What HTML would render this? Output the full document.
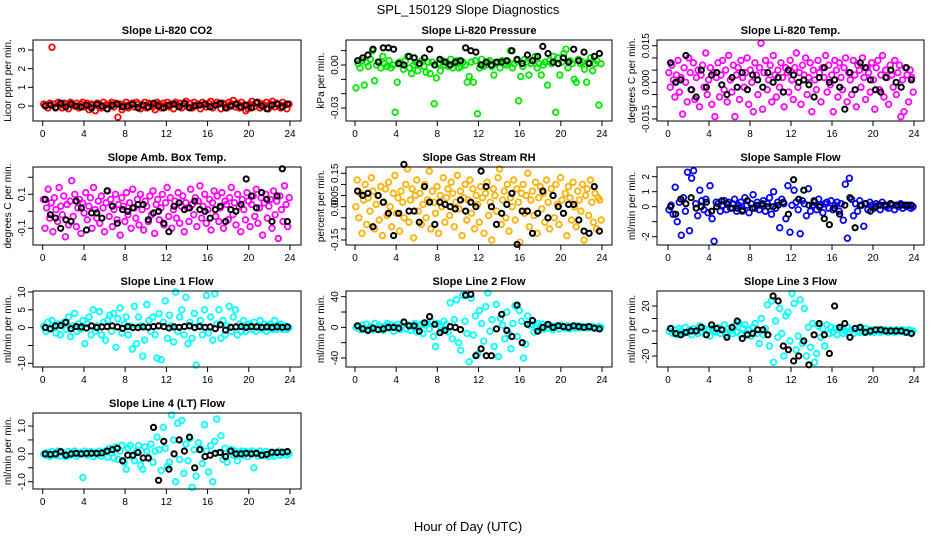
<!DOCTYPE html>
<html><head><meta charset="utf-8">
<style>
html,body{margin:0;padding:0;background:#fff;}
svg{display:block;font-family:"Liberation Sans",sans-serif;}
</style></head>
<body>
<svg id="chart" width="936" height="540" viewBox="0 0 936 540" xmlns="http://www.w3.org/2000/svg">
<rect width="936" height="540" fill="#fff"/>
<text x="468" y="14" text-anchor="middle" font-size="13">SPL_150129  Slope Diagnostics</text>
<text x="468" y="531" text-anchor="middle" font-size="13">Hour of Day (UTC)</text>
</svg>
<script>
// ---- data (hours 0-24 spread evenly by array length) ----
const xTicks = [0,4,8,12,16,20,24];

const co2Vals = [0.1,0.05,-0.1,0.15,3.15,0.1,-0.05,0.2,0.05,-0.1,0.15,0.1,-0.15,0.2,0.05,0,0.15,-0.1,0.1,0.2,-0.05,0.15,-0.2,0.1,0.05,-0.25,0.15,0.1,-0.1,0.2,0.05,-0.15,0.1,0.2,-0.05,0.15,-0.6,0.1,-0.2,0.05,0.2,-0.1,0.1,0.15,-0.05,0.2,0.1,-0.15,0.05,0.2,-0.1,0.15,0.1,-0.05,-0.2,0.2,0.1,-0.1,0.15,0.05,0.2,-0.05,0.1,-0.15,0.2,0.05,0.15,-0.1,0.1,0.25,-0.05,0.15,-0.1,0.2,0.05,0.1,-0.15,0.2,0.1,-0.05,0.15,0.25,-0.1,0.05,0.2,0.1,-0.15,0.15,0.05,-0.1,0.2,0.1,0.3,-0.05,0.15,-0.1,0.2,0.05,-0.25,-0.15,0.1,0.25,-0.05,0.15,0.2,-0.1,0.1,0.05,0.2,-0.15,0.1,0.25,-0.05,0.15,0.1,-0.1,0.2,0.05,-0.15,0.1];
const co2Black = [0,0.05,-0.1,0.15,-0.05,0.1,0,-0.05,0.05,-0.1,0.1,0,-0.15,0.05,0.1,-0.05,0,0.1,-0.1,0.05,-0.05,0.15,0,-0.1,0.05,0.1,-0.05,0.15,-0.1,0,0.05,0.1,-0.05,0.05,0.15,-0.1,0,0.1,-0.05,0.05,-0.1,0.2,0,-0.15,0.05,0.1,-0.05,0.1];

const presVals = [-0.016,0.001,-0.002,0.003,-0.014,0.002,-0.001,0.004,0.01,-0.011,0,0.002,-0.002,0.006,0.001,-0.001,0.003,-0.002,0,-0.033,-0.012,0.002,0.001,-0.003,0.003,0.006,-0.002,-0.006,0,0.002,-0.004,0.001,0.003,-0.001,-0.005,0.002,-0.006,0.002,-0.027,-0.009,0.001,-0.004,0.003,0,0.002,-0.001,0.004,-0.002,0.001,0.003,-0.002,-0.001,0.002,0,-0.012,-0.008,0.002,-0.012,0.003,-0.034,-0.002,0.004,-0.001,0,0.002,0.003,-0.001,-0.007,0.001,0.002,-0.002,0.003,0.001,0,0.002,0.01,-0.002,0.001,0.003,-0.025,-0.008,-0.001,0.004,0.002,-0.007,0.001,0.003,0.006,-0.002,0.001,-0.007,0,0.002,-0.014,0.003,0.001,0.006,-0.033,0.005,-0.007,0.002,0.008,0.011,-0.002,0.003,0.001,-0.01,-0.012,0.004,0.001,0.002,-0.003,-0.012,0.002,0.005,-0.004,0.001,0.003,-0.028,0.001];
const presBlack = [0.003,0.005,0.007,0.011,0.002,0.012,0.012,0.011,0.001,0,0.006,0.005,0.001,0.005,0.011,0,0.004,0.002,0,0.002,0.003,0.012,0.01,0.009,0,0.002,0,0.002,0.002,0.003,0.01,0.004,0.001,0.007,0.003,0.006,0.013,0.008,0.002,0.001,0.005,0.002,0.011,0.003,0.009,0.001,0.006,0.008];

const tempVals = [0.004,-0.002,0.007,0.001,-0.006,0.003,0.009,-0.004,0.002,-0.013,0.006,0,-0.008,0.01,0.004,-0.003,0.008,-0.007,0.002,0.005,-0.01,0.003,0.007,-0.002,0.012,-0.005,0.001,0.006,-0.009,0.004,-0.014,0.002,0.008,-0.006,0.003,0.009,-0.003,0.005,-0.008,0.011,0.001,-0.004,0.007,-0.014,0.003,0.006,-0.007,0.009,0.002,-0.002,0.004,0.01,-0.009,0.005,0,-0.012,0.008,0.003,-0.005,0.006,0.016,-0.011,0.004,0.009,-0.003,0.001,0.007,-0.008,0.011,0.003,-0.006,0.005,-0.002,0.008,0.002,-0.01,0.006,0.004,-0.004,0.009,0.001,-0.007,0.006,0.012,-0.002,0.004,-0.009,0.007,0.003,0.01,-0.005,0.002,0.008,-0.012,0.005,0.001,-0.003,0.009,0.004,-0.008,0.006,0.002,0.011,-0.004,0.007,-0.001,0.003,-0.012,0.009,0.005,-0.006,0.008,0.002,-0.003,0.006,0.01,-0.008,0.004,0.001,-0.005,0.009,0.003,-0.01,0.007,0.005,-0.002,0.01,0.002,-0.007,0.006,0.004,-0.004,0.008,0.001,-0.011,0.006,0.009,-0.003,0.003,0.011,-0.006,0.005,0.002,-0.009,0.007,0.003,-0.002,0.009,-0.005,0.004,0.007,-0.014,0.001,-0.012,0.006,0.003,-0.008,0.005,0.002,-0.004];
const tempBlack = [0.008,0,0.001,0.011,-0.003,-0.006,0.005,-0.002,0.003,0.004,-0.001,-0.005,0.002,-0.002,0.004,-0.003,0.003,0.001,-0.002,0.004,0,0.002,-0.004,0.005,0.003,0,0.001,-0.001,-0.006,0.002,0.006,0,0.001,-0.002,-0.011,0.004,-0.003,0.008,0.006,0.001,-0.003,-0.004,0.002,0.005,0,-0.002,0.006,0.001];

const ambVals = [0.07,-0.1,0.02,0.13,-0.04,0.05,-0.12,0.08,0.01,-0.06,0.14,0.03,-0.02,0.09,-0.15,0.04,-0.08,0.06,0.18,-0.03,0.1,-0.09,0.02,0.07,-0.13,0.05,-0.01,0.11,-0.05,0.03,0.08,-0.1,0.14,0.01,-0.04,0.06,-0.07,0.09,0.02,-0.12,0.05,0.12,-0.03,0.07,-0.09,0.01,0.1,-0.05,0.04,-0.14,0.08,0.03,-0.06,0.11,-0.02,0.05,-0.1,0.13,0.02,-0.04,0.07,-0.08,0.1,0.01,-0.11,0.06,0.03,-0.06,0.09,-0.02,0.12,-0.13,0.04,0.07,-0.05,0.02,0.1,-0.08,0.05,0.14,-0.03,0.08,-0.1,0.01,0.06,-0.04,0.11,-0.07,0.03,0.09,-0.12,0.05,0.02,-0.06,0.13,0.04,-0.02,0.08,-0.09,0.06,0.15,-0.04,0.03,0.1,-0.07,0.01,0.07,-0.11,0.05,0.12,-0.03,0.09,-0.06,0.02,0.11,-0.1,0.06,0.04,-0.05,0.08,0.14,-0.02,0.05,-0.08,0.1,0.03,-0.12,0.07,0.01,-0.05,0.11,0.06,-0.09,0.04,0.09,-0.03,0.13,-0.07,0.02,0.08,-0.14,0.05,0.1,-0.04,0.03,0.07,-0.1,0.12,-0.02,0.06,-0.16,0.09,0.01,-0.06,0.15,0.04,-0.09,0.08];
const ambBlack = [0.07,-0.02,-0.04,-0.1,-0.05,-0.06,0.06,0.02,-0.11,-0.01,-0.01,-0.04,0.12,0.03,-0.07,0.01,0,0.02,0.04,0.04,-0.05,-0.01,0,-0.07,-0.12,0.03,0.05,0.01,0.02,0.06,0.01,0,-0.04,0.01,0.03,-0.06,0.01,0,0.04,0.19,0.09,0.02,0.11,0.07,-0.06,0.09,0.25,-0.06];

const rhVals = [0.0,0.12,-0.05,0.06,-0.12,0.03,0.1,-0.08,0.04,-0.02,0.13,0.07,-0.1,0.01,0.05,-0.06,0.09,-0.13,0.02,0.08,-0.04,0.11,0.0,-0.09,0.06,0.14,-0.03,0.04,-0.11,0.07,0.02,-0.05,0.1,0.17,-0.07,0.03,0.08,-0.14,0.05,0.12,-0.02,0.06,-0.08,0.01,0.1,-0.05,0.03,0.16,-0.1,0.07,0.02,-0.03,0.09,-0.12,0.05,0.0,0.13,-0.07,0.04,0.08,-0.04,0.11,0.06,-0.09,0.02,0.14,-0.01,0.07,-0.13,0.04,0.1,-0.06,0.03,0.12,-0.03,0.08,-0.1,0.05,0.01,-0.07,0.09,0.04,-0.12,0.06,0.11,-0.04,0.02,-0.15,0.08,0.05,-0.02,0.13,0.17,-0.08,0.03,0.07,-0.05,0.1,-0.11,0.04,0.0,0.12,-0.06,0.08,0.02,-0.16,0.06,0.1,-0.03,0.05,0.15,-0.09,0.03,0.07,-0.04,0.11,-0.12,0.04,0.09,-0.01,0.06,-0.07,0.12,0.02,-0.1,0.08,0.05,-0.05,0.1,0.01,-0.08,0.13,0.03,-0.03,0.06,-0.13,0.09,0.04,-0.06,0.11,0.0,-0.09,0.07,0.03,-0.02,0.1,-0.15,0.05,0.08,-0.04,0.12,0.02,-0.07,0.06,-0.1,0.04,0.03,-0.06];
const rhBlack = [0.07,0.05,0.06,-0.09,0.05,0.02,-0.03,-0.13,-0.03,0.19,-0.02,-0.02,-0.07,0.09,0.02,-0.08,0.02,0.01,0,-0.01,0.03,-0.02,0.02,0,0.16,0.09,0,-0.08,-0.03,0.01,0.06,-0.17,-0.02,-0.02,-0.12,-0.03,0.07,-0.05,0.05,0,-0.03,0.01,0.01,-0.06,-0.11,-0.12,0.09,-0.11];

const sampVals = [-0.2,0.1,-0.5,1.3,-1.0,0.3,-1.9,0.6,-0.3,2.3,-1.6,1.9,2.4,0.2,-0.6,1.1,0.4,-0.2,0.5,-0.4,1.4,-0.8,-2.3,0.3,0.2,-0.3,0.1,0.4,-0.2,0.3,-0.1,0.2,0.5,-0.3,0.1,0.3,-0.2,0.6,0.1,-0.4,0.2,0.8,-0.1,0.3,-0.2,0.1,0.4,-0.3,0.2,0.6,-0.5,1.0,-0.1,0.3,-1.4,0.5,0.2,-0.8,1.4,-1.7,0.1,1.1,0.3,-0.2,-1.8,0.4,0.2,-0.6,1.2,-0.3,0.1,0.3,-0.2,0.5,0.1,-0.4,0.2,0.3,-0.1,0.4,-0.2,0.1,0.3,-0.3,0.2,-0.9,1.5,-2.1,1.9,0.5,-0.6,0.2,-0.3,0.4,0.1,-1.3,0.2,-0.2,0.3,0.1,-0.1,0.2,0.1,-0.2,0.3,0.1,0.0,-0.1,0.2,0.1,-0.2,0.1,0.0,0.2,-0.1,0.1,0.0,0.1,-0.1,0.0];
const sampBlack = [0.0,-0.5,0.5,0.2,0.6,-0.1,0.0,0.3,-0.3,0.0,0.4,0.2,-0.1,-0.1,-0.3,0.4,-0.1,0.1,0.2,0.0,0.0,0.1,0.3,-0.5,1.8,0.5,1.1,0.1,0.4,0.0,-0.8,-1.2,-0.1,-0.5,0.1,0.6,-1.4,0.1,0.2,-0.3,0.0,0.1,0.1,0.2,0.1,0.1,0.1,0.1];

const line1Vals = [0.5,-1,1.5,-0.5,2,0,-1.5,1,-2,0.5,1.5,-0.5,3,-2.5,0.5,4,-1,1,-0.5,2,-4.5,1,3,-2,5,-1,0.5,4.5,-2,1.5,-3.5,2,3.5,-1,4,-5.5,2.5,5.5,-1.5,1,3,-2,0.5,-6,6,-4.5,3,0.5,-8,-3.5,6.5,2,-1,3,-2,-8.5,4,-9,1.5,7.5,-3,3.5,0.5,-4,10,-1,3,5,-2,8.5,-4.5,1.5,-3,4,-10.5,0.5,2,-2,5,9,-1.5,3,-3.5,9.5,1,5,-3,2,-2,0.5,6,-1,3,5,-2,1,-1,2,-1,0.5,1,-0.5,1.5,-1,0.5,2,-0.5,1,-1,0.5,1,-0.5,2,-0.5,0.5,1,-0.5,0.5,-0.5,0];
const line1Black = [0,-0.3,0.5,0.6,1.5,-0.3,0.3,0.2,-0.1,0.5,0,0.2,0.3,0.5,0.2,-0.2,0.3,0,0,0.2,0.1,0.3,0.5,0.3,-0.1,0.2,0.1,0.3,0.5,0,0.3,0.1,0.2,-0.3,0.8,-0.7,0.1,0.2,0.3,0.1,0.3,0.2,0.1,0.2,0.1,0.2,0.1,0.2];

const line2Vals = [0,2,-3,3,-1,4,-2,1,-3,5,-2,3,0,-4,2,5,-1,3,-5,1,4,-3,2,6,-2,3,-4,1,5,-6,2,4,-8,3,6,-2,7,-12,-25,5,2,-4,8,4,-6,32,-15,10,36,-20,-30,42,8,-8,-45,38,-10,15,-35,22,5,-18,27,45,-5,10,-25,30,-38,12,3,-15,20,-8,-28,5,28,-12,22,8,-40,-22,15,3,4,-6,2,5,-3,4,-2,3,-1,2,-3,1,2,-2,3,0,-1,2,-2,1,0,-1,2,-1,1,0,1,-1,0,1,-1,0,1,0];
const line2Black = [2,-2,-4,-1,-3,-2,0,0,-1,7,2,2,-5,6,14,4,-7,-4,1,0,-3,42,43,-37,-28,-37,-37,-2,17,-4,-12,29,-20,4,9,-5,0,4,0,2,1,0,2,1,0,1,-1,-2];

const line3Vals = [0,2,-2,1,-3,2,0,-2,3,-1,1,-3,2,0,-2,4,-1,2,-3,1,-4,2,0,-1,3,-2,1,5,-3,2,0,-2,4,-1,7,-3,2,5,-2,1,-4,3,6,-2,-10,10,-3,2,21,-12,24,-25,8,-5,18,-2,-20,12,15,-8,30,22,-15,-4,25,-10,18,-20,3,-13,6,-25,-18,4,-5,2,-12,5,-2,3,-1,2,-3,1,2,-2,0,3,-1,1,-2,2,0,-1,1,-1,2,0,-1,1,-1,0,1,-1,0,1,0,-1,1,0,-1,1,0,0,1,-1,0,1,0,0];
const line3Black = [2,-2,-3,-1,0,0,3,-3,5,2,1,-5,3,8,-6,-3,-2,1,1,-3,28,24,-12,-15,-24,-20,-8,-27,-3,6,-3,-18,20,3,6,-5,2,3,-1,0,1,1,0,0,0,0,-1,-2];

const line4Vals = [0,-0.05,0.05,-0.1,0.08,0,-0.05,0.1,-0.08,0.05,0,-0.1,0.08,-0.05,0.05,0.1,-0.08,0,0.05,-0.85,0.1,-0.05,0.02,0.08,-0.1,0.05,-0.03,0.1,-0.08,0.05,0.1,-0.12,0.2,0.05,-0.15,0.25,-0.2,0.1,0.3,-0.3,-0.55,0.2,0.3,-0.1,-0.25,0.1,0.3,-0.4,-0.55,0.25,0.1,-0.15,0.35,-0.3,0.1,0.6,0.15,-0.6,0.95,0.2,-0.45,-0.3,1.4,0.5,-1.0,1.1,-0.2,1.2,-0.7,0.35,-0.25,0.55,-1.2,0.15,-0.8,0.4,0.2,-0.35,1.05,0.1,-0.65,0.3,-1.0,0.45,1.25,0.05,0.65,-0.2,0.2,-0.3,0.1,0.15,-0.05,0.1,-0.25,0.05,0.1,-0.05,0.08,-0.1,0.05,0.1,-0.5,0.05,-0.08,0.1,0,-0.05,0.08,-0.1,0.05,0,-0.08,0.05,0.1,-0.05,0,0.05,-0.05,0];
const line4Black = [0,-0.02,0,0.08,-0.05,0,0.02,0,0.02,0.02,0.02,0.03,0.1,0.15,0.2,-0.25,-0.05,-0.05,0.05,-0.15,-0.15,0.95,-0.95,0.45,-0.55,0,0.5,0.1,0.6,-0.5,0.15,-0.1,-0.05,0.02,0.05,-0.1,0.1,0,0,0.02,0,0.02,-0.05,-0.02,0.06,0.05,0.06,0.08];

const co2Ticks=[0,1,2,3], co2Labels=["0","1","2","3"];
const presTicks=[0.01,0,-0.01,-0.02,-0.03], presLabels=["","0.00","","","-0.03"];
const tempTicks=[0.015,0.01,0.005,0,-0.005,-0.01,-0.015], tempLabels=["0.015","","","0.000","","","-0.015"];
const ambTicks=[0.2,0.1,0,-0.1], ambLabels=["","0.1","","-0.1"];
const rhTicks=[0.15,0.1,0.05,0,-0.05,-0.1,-0.15], rhLabels=["0.15","","0.05","0.00","","","-0.15"];
const sampTicks=[2,1,0,-1,-2], sampLabels=["2","1","0","","-2"];
const line1Ticks=[10,5,0,-5,-10], line1Labels=["10","5","0","","-10"];
const line2Ticks=[40,20,0,-20,-40], line2Labels=["40","","0","","-40"];
const line3Ticks=[20,10,0,-10,-20], line3Labels=["20","","0","","-20"];
const line4Ticks=[1,0.5,0,-0.5,-1], line4Labels=["1.0","","0.0","","-1.0"];

// ---- layout ----
const COLS=[{l:33,r:301,x0:42.7,x24:290},{l:346,r:612,x0:355,x24:602},{l:657,r:924,x0:668,x24:914}];
const ROWS=[{t:40,b:121},{t:167,b:245},{t:291,b:367},{t:413,b:489}];
const panels=[
 {key:'co2',title:'Slope Li-820 CO2',ylab:'Licor ppm per min.',c:0,r:0,ref:[0,106,3,50],col:'#ff0000',vals:co2Vals,blk:co2Black,ticks:co2Ticks,labels:co2Labels},
 {key:'pressure',title:'Slope Li-820 Pressure',ylab:'kPa per min.',c:1,r:0,ref:[0,65,-0.03,108],col:'#00e600',vals:presVals,blk:presBlack,ticks:presTicks,labels:presLabels},
 {key:'li820-temp',title:'Slope Li-820 Temp.',ylab:'degrees C per min.',c:2,r:0,ref:[0.015,45.7,-0.015,119],col:'#ff00ff',vals:tempVals,blk:tempBlack,ticks:tempTicks,labels:tempLabels},
 {key:'amb-box-temp',title:'Slope Amb. Box Temp.',ylab:'degrees C per min.',c:0,r:1,ref:[0.1,194.3,-0.1,228.3],col:'#ff00ff',vals:ambVals,blk:ambBlack,ticks:ambTicks,labels:ambLabels},
 {key:'gas-stream-rh',title:'Slope Gas Stream RH',ylab:'percent per min.',c:1,r:1,ref:[0.15,173.3,-0.15,240],col:'#ffb000',vals:rhVals,blk:rhBlack,ticks:rhTicks,labels:rhLabels},
 {key:'sample-flow',title:'Slope Sample Flow',ylab:'ml/min per min.',c:2,r:1,ref:[2,176.7,-2,236.7],col:'#0000ff',vals:sampVals,blk:sampBlack,ticks:sampTicks,labels:sampLabels},
 {key:'line1-flow',title:'Slope Line 1 Flow',ylab:'ml/min per min.',c:0,r:2,ref:[10,292,-10,363.3],col:'#00ffff',vals:line1Vals,blk:line1Black,ticks:line1Ticks,labels:line1Labels},
 {key:'line2-flow',title:'Slope Line 2 Flow',ylab:'ml/min per min.',c:1,r:2,ref:[40,296.7,-40,358],col:'#00ffff',vals:line2Vals,blk:line2Black,ticks:line2Ticks,labels:line2Labels},
 {key:'line3-flow',title:'Slope Line 3 Flow',ylab:'ml/min per min.',c:2,r:2,ref:[20,306,-20,356],col:'#00ffff',vals:line3Vals,blk:line3Black,ticks:line3Ticks,labels:line3Labels},
 {key:'line4-flow',title:'Slope Line 4 (LT) Flow',ylab:'ml/min per min.',c:0,r:3,ref:[1,426,-1,481.7],col:'#00ffff',vals:line4Vals,blk:line4Black,ticks:line4Ticks,labels:line4Labels}
];
const NS='http://www.w3.org/2000/svg';
const svg=document.getElementById('chart');
function mk(tag,attrs,parent){const e=document.createElementNS(NS,tag);for(const k in attrs)e.setAttribute(k,attrs[k]);(parent||svg).appendChild(e);return e;}
function hourAt(i,n){return (i+0.5)*24/n;}
panels.forEach(p=>{
  const C=COLS[p.c],R=ROWS[p.r];
  const xs=h=>C.x0+(C.x24-C.x0)*h/24;
  const ys=v=>p.ref[1]+(v-p.ref[0])*(p.ref[3]-p.ref[1])/(p.ref[2]-p.ref[0]);
  const g=mk('g',{});
  
  
  const t=mk('text',{x:(C.l+C.r)/2,y:R.t-6,'text-anchor':'middle','font-size':'11','font-weight':'bold'},g);
  t.textContent=p.title;
  
  
  const yl=mk('text',{transform:`translate(${C.l-22},${(R.t+R.b)/2}) rotate(-90)`,'text-anchor':'middle','font-size':'10'},g);
  yl.textContent=p.ylab;
  
  
  const pg=mk('g',{fill:'none'},g);
  
  
  p.vals.forEach((v,i)=>{
    const c=mk('circle',{cx:xs(hourAt(i,p.vals.length)).toFixed(1),cy:ys(v).toFixed(1),r:2.8,stroke:p.col,'stroke-width':1.8},pg);
    
    
  });
  const bg=mk('g',{fill:'none'},g);
  
  
  p.blk.forEach((v,i)=>{
    const c=mk('circle',{cx:xs(hourAt(i,p.blk.length)).toFixed(1),cy:ys(v).toFixed(1),r:2.6,stroke:'#000','stroke-width':2},bg);
    
    
  });
  const box=mk('rect',{x:C.l,y:R.t,width:C.r-C.l,height:R.b-R.t,fill:'none',stroke:'#000','stroke-width':1},g);
  
  
  xTicks.forEach(h=>{
    const x=xs(h);
    mk('line',{x1:x,x2:x,y1:R.b,y2:R.b+5,stroke:'#000'},g);
    const lt=mk('text',{x:x,y:R.b+16,'text-anchor':'middle','font-size':'10'},g);
    lt.textContent=h;
    
    
  });
  p.ticks.forEach((v,i)=>{
    const y=ys(v);
    mk('line',{x1:C.l-5,x2:C.l,y1:y,y2:y,stroke:'#000'},g);
    if(p.labels[i]){
      const lt=mk('text',{transform:`translate(${C.l-8},${y}) rotate(-90)`,'text-anchor':'middle','font-size':'10'},g);
      lt.textContent=p.labels[i];
      
      
    }
  });
});
</script>
</body></html>
